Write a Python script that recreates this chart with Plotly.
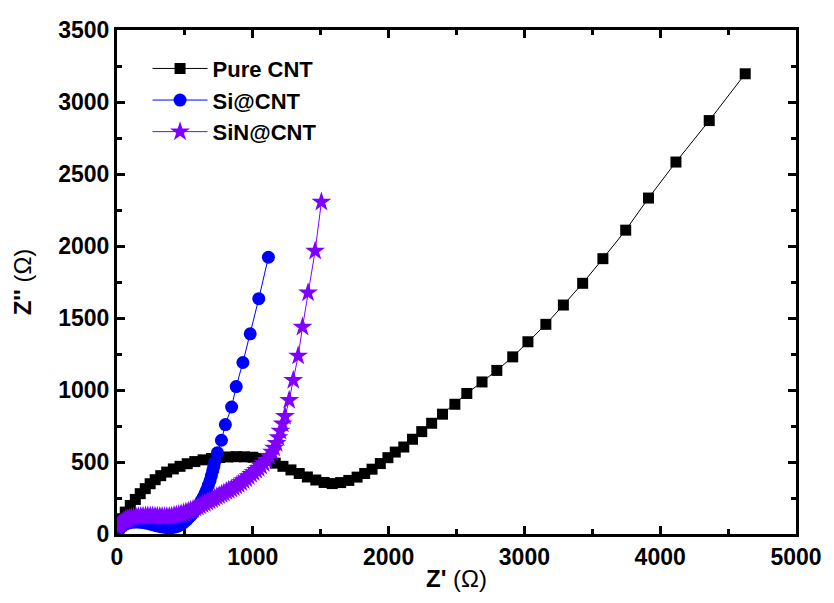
import plotly.graph_objects as go

# Nyquist data: Z' (real) and Z'' (imaginary), in ohms
pure_cnt_x = [10, 25, 61, 98, 135, 171, 208, 244, 281, 322, 366, 415, 464, 517, 573, 634, 696, 756,
              817, 878, 939, 1000, 1061, 1110, 1165, 1222, 1281, 1342, 1402, 1464, 1525, 1585, 1647,
              1707, 1768, 1824, 1878, 1939, 1995, 2049, 2112, 2176, 2244, 2317, 2397, 2488, 2576,
              2688, 2797, 2914, 3026, 3158, 3287, 3429, 3578, 3746, 3914, 4116, 4361, 4626]
pure_cnt_y = [55, 106, 152, 198, 240, 280, 315, 349, 377, 405, 430, 452, 470, 488, 503, 515, 524, 531,
              535, 537, 536, 533, 525, 510, 492, 470, 445, 420, 396, 375, 358, 350, 357,
              372, 395, 420, 450, 489, 530, 569, 604, 658, 711, 769, 832, 901, 976,
              1056, 1136, 1230, 1335, 1456, 1590, 1741, 1912, 2110, 2333, 2583, 2871, 3196]

si_cnt_x = [5, 12, 20, 30, 40, 52, 65, 80, 95, 112, 130, 150, 170, 190, 210, 230, 250, 270, 290, 310,
            330, 348, 365, 380, 395, 410, 425, 440, 455, 470, 485, 500, 515, 530, 545, 560,
            575, 590, 605, 620, 635, 648, 660, 672, 685, 695, 705, 713, 720, 740, 769, 798, 844,
            878, 927, 981, 1044, 1115]
si_cnt_y = [20, 30, 40, 49, 58, 65, 72, 76, 80, 82, 84, 83, 82, 80, 77, 73, 68, 63, 58, 54,
            50, 47, 45, 44, 44, 45, 48, 52, 58, 66, 75, 87, 100, 115, 130, 147,
            165, 185, 205, 230, 255, 280, 305, 337, 370, 405, 440, 470, 500, 565, 651, 760, 882,
            1024, 1191, 1390, 1634, 1922]

sin_cnt_x = [5, 15, 25, 37, 50, 62, 75, 90, 105, 122, 140, 157, 175, 192, 210, 227, 245, 262, 280,
             297, 315, 332, 350, 367, 385, 402, 420, 437, 455, 472, 490, 507, 525, 542, 560,
             577, 595, 612, 630, 647, 665, 682, 700, 717, 735, 752, 770, 787, 805, 823, 842, 860,
             878, 896, 915, 933, 952, 970, 988, 1006, 1025, 1043, 1061, 1080, 1100, 1121, 1142,
             1158, 1175, 1189, 1203, 1220, 1237, 1268, 1298, 1334, 1366, 1407, 1459, 1505]
sin_cnt_y = [45, 59, 72, 82, 92, 99, 106, 111, 115, 118, 120, 122, 123, 124, 125, 125, 125, 125, 124,
             123, 122, 121, 120, 121, 122, 124, 128, 132, 136, 141, 146, 152, 158, 165, 172,
             180, 188, 196, 205, 213, 222, 231, 240, 249, 258, 267, 276, 285, 295, 303, 312, 323,
             335, 346, 358, 371, 384, 399, 415, 428, 442, 457, 472, 491, 512, 540, 569,
             598, 630, 670, 715, 765, 818, 929, 1068, 1237, 1437, 1676, 1966, 2305]

series = [
    ("Pure CNT", pure_cnt_x, pure_cnt_y, "#000000", "square", 11),
    ("Si@CNT", si_cnt_x, si_cnt_y, "#0000ff", "circle", 13),
    ("SiN@CNT", sin_cnt_x, sin_cnt_y, "#8000ff", "star", 15),
]

fig = go.Figure()
for name, xs, ys, color, symbol, size in series:
    fig.add_trace(go.Scatter(
        x=xs, y=ys, name="<b>" + name + "</b>", mode="lines+markers",
        line=dict(color=color, width=1),
        marker=dict(symbol=symbol, size=size, color=color, line=dict(width=0)),
    ))

font_family = "Arial, Liberation Sans, sans-serif"
axis_common = dict(
    showline=True, linecolor="black", linewidth=3, mirror="ticks",
    ticks="inside", ticklen=8, tickwidth=2.5, tickcolor="black",
    showgrid=False, zeroline=False,
    tickfont=dict(family=font_family, size=23, color="black"),
    tickprefix="<b>", ticksuffix="</b>",
)

fig.update_xaxes(
    range=[0, 5000], dtick=1000, tick0=0,
    minor=dict(ticks="inside", dtick=500, ticklen=5, tickwidth=2.5, tickcolor="black"),
    title=dict(text="<b>Z'</b> (Ω)", font=dict(family=font_family, size=24, color="black"), standoff=2),
    **axis_common,
)
fig.update_yaxes(
    range=[0, 3500], dtick=500, tick0=0,
    minor=dict(ticks="inside", dtick=250, ticklen=5, tickwidth=2.5, tickcolor="black"),
    title=dict(text="<b>Z''</b> (Ω)", font=dict(family=font_family, size=24, color="black"), standoff=20),
    **axis_common,
)

fig.update_layout(
    width=834, height=603,
    margin=dict(l=117, r=34, t=30, b=69),
    paper_bgcolor="white", plot_bgcolor="white",
    showlegend=True,
    legend=dict(
        x=0.045, y=0.965, xanchor="left", yanchor="top",
        bgcolor="rgba(0,0,0,0)", borderwidth=0,
        font=dict(family=font_family, size=22, color="black"),
        itemwidth=55, tracegroupgap=0,
    ),
    font=dict(family=font_family, color="black"),
)

fig.write_html("out.html")
